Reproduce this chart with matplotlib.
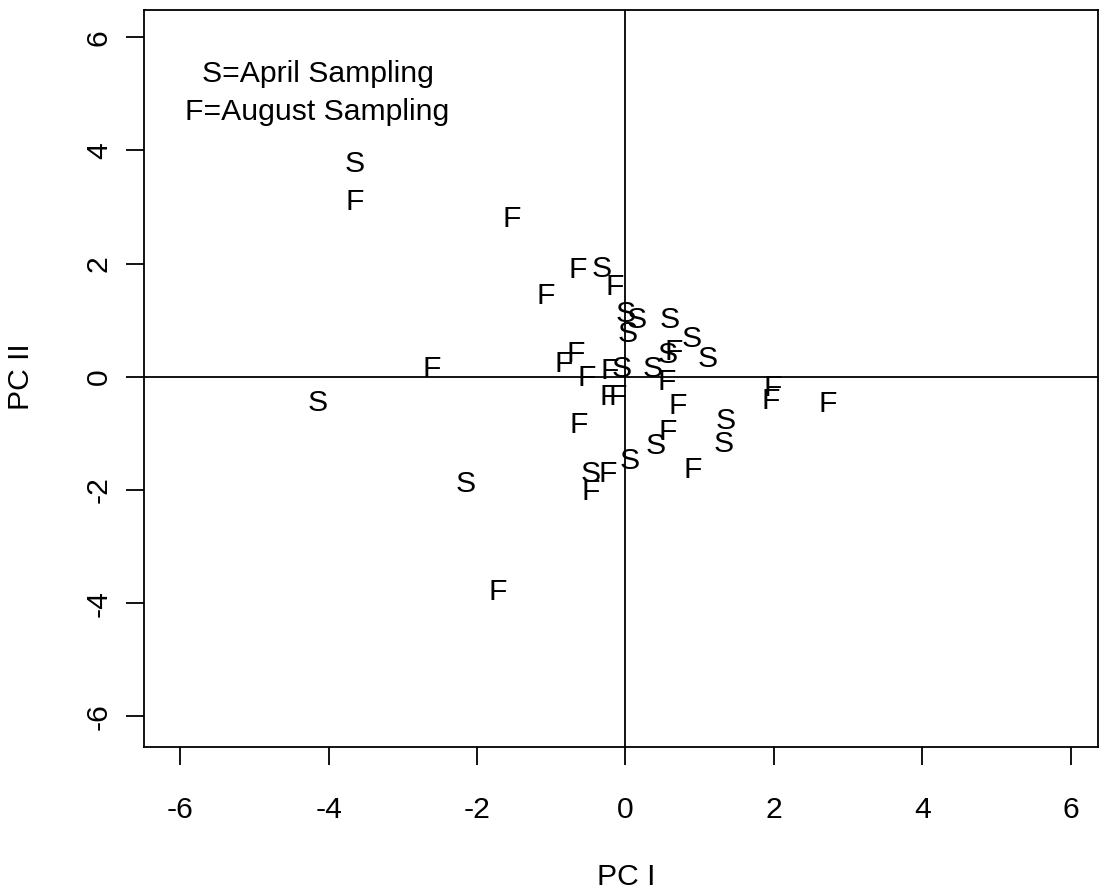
import matplotlib
matplotlib.use("Agg")
import matplotlib.pyplot as plt
import matplotlib.transforms as mtransforms

plt.rcParams["font.family"] = ["Liberation Sans", "DejaVu Sans"]
plt.rcParams["axes.unicode_minus"] = False

# PCA scores, April sampling (S)
april_pc1 = [-3.65, -0.32, 0.00, 0.15, 0.03, 0.60, 0.89, 1.11, 0.57, -0.05,
             0.37, -4.15, 1.35, 1.32, 0.41, 0.06, -0.47, -2.15]
april_pc2 = [3.80, 1.96, 1.15, 1.06, 0.81, 1.06, 0.71, 0.37, 0.44, 0.18,
             0.18, -0.41, -0.73, -1.13, -1.18, -1.43, -1.66, -1.84]

# PCA scores, August sampling (F)
august_pc1 = [-3.65, -1.53, -0.64, -0.15, -1.07, 0.65, -0.67, -0.83, -0.52,
              -0.21, -2.61, 0.56, -0.23, -0.11, 0.70, -0.63, 0.57, 0.91,
              -0.24, -0.47, -1.72, 1.98, 1.96, 2.73]
august_pc2 = [3.14, 2.83, 1.94, 1.64, 1.47, 0.48, 0.46, 0.28, 0.02, 0.16,
              0.18, -0.05, -0.30, -0.30, -0.47, -0.80, -0.93, -1.59, -1.66,
              -1.98, -3.76, -0.14, -0.37, -0.44]

ticks = [-6, -4, -2, 0, 2, 4, 6]
fs = 21.7

fig = plt.figure(figsize=(11, 8.94), dpi=100)
ax = fig.add_axes([144 / 1100, 1 - 747 / 894, 954 / 1100, 737 / 894])

# letters are centred on the cap height, not on the line box
mark = mtransforms.offset_copy(ax.transData, fig=fig, y=-fs * 0.716 / 2,
                               units="points")

for x, y in zip(april_pc1, april_pc2):
    ax.text(x, y, "S", transform=mark, ha="center", va="baseline",
            fontsize=fs)
for x, y in zip(august_pc1, august_pc2):
    ax.text(x, y, "F", transform=mark, ha="center", va="baseline",
            fontsize=fs)

ax.axhline(0, color="black", lw=1.3)
ax.axvline(0, color="black", lw=1.3)

ax.text(-4.15, 5.39, "S=April Sampling", transform=mark, ha="center",
        va="baseline", fontsize=fs)
ax.text(-4.15, 4.72, "F=August Sampling", transform=mark, ha="center",
        va="baseline", fontsize=fs)

ax.set_xlim(-6.49, 6.37)
ax.set_ylim(-6.54, 6.48)
ax.set_xticks(ticks)
ax.set_yticks(ticks)
ax.tick_params(length=13, width=1.3, labelsize=fs, color="black")
ax.tick_params(axis="x", pad=22)
ax.tick_params(axis="y", pad=9.5, labelrotation=90)
for lab in ax.get_yticklabels():
    lab.set_va("center")

for s in ax.spines.values():
    s.set_linewidth(1.3)

ax.set_xlabel("PC I", fontsize=fs)
ax.set_ylabel("PC II", fontsize=fs)
ax.xaxis.set_label_coords(0.505, -0.158)
ax.yaxis.set_label_coords(-0.114, 0.502)

fig.savefig("out.png", dpi=100)
